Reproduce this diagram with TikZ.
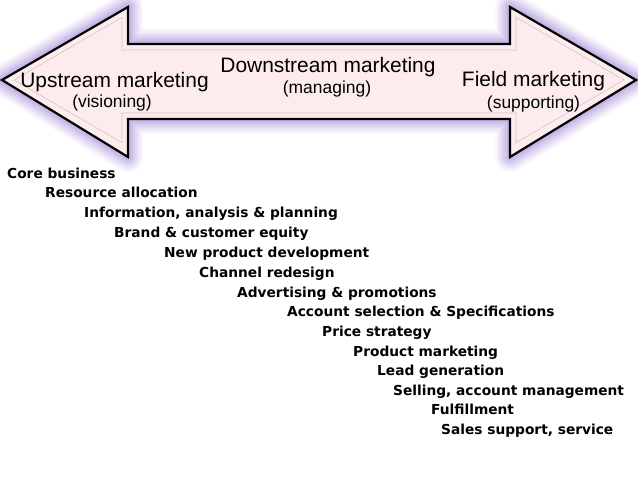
\documentclass[tikz,border=0pt]{standalone}
\usepackage{fontspec}
\setmainfont{Liberation Sans}
\newfontfamily\listfont{DejaVu Sans}
\definecolor{arrowfill}{RGB}{253,236,237}
\definecolor{glow}{RGB}{165,140,215}
\definecolor{bevel}{RGB}{215,195,200}
\begin{document}
\begin{tikzpicture}[x=1bp,y=-1bp,
  big/.style={font=\fontsize{21}{24}\selectfont, inner sep=0pt, anchor=base},
  small/.style={font=\fontsize{17.5}{20}\selectfont, inner sep=0pt, anchor=base},
  item/.style={font=\listfont\bfseries\fontsize{13.8}{16}\selectfont, inner sep=0pt, anchor=base west}]
\useasboundingbox (0,0) rectangle (638,479);
\def\arrowpath{(2,80) -- (128,7) -- (128,44) -- (510,44) -- (510,7) -- (636,80) -- (510,157) -- (510,119) -- (128,119) -- (128,157) -- cycle}
% glow
\foreach \w/\o in {30/0.07,26/0.09,22/0.11,18/0.13,14/0.15,10/0.18,6/0.22}{
  \draw[glow, line width=\w bp, opacity=\o, line join=round] \arrowpath;
}
% arrow body
\fill[white] \arrowpath;
\draw[fill=arrowfill, line width=2.2bp, line join=miter] \arrowpath;
% inner bevel line
\draw[bevel, line width=0.6bp] (14,80) -- (122,17.4) -- (122,50) -- (516,50) -- (516,17.4) -- (624,80) -- (516,142.6) -- (516,113) -- (122,113) -- (122,142.6) -- cycle;
% labels
\node[big] (up) at (114.5,88) {Upstream marketing};
\node[small] (upv) at (112,108) {(visioning)};
\node[big] (down) at (328,73) {Downstream marketing};
\node[small] (downm) at (327,94) {(managing)};
\node[big] (field) at (533.5,87) {Field marketing};
\node[small] (fields) at (533.5,109) {(supporting)};
% list
\node[item] (l1) at (7,179) {Core business};
\node[item] (l2) at (45,198) {Resource allocation};
\node[item] (l3) at (84,218) {Information, analysis \& planning};
\node[item] (l4) at (114,238) {Brand \& customer equity};
\node[item] (l5) at (164,257) {New product development};
\node[item] (l6) at (199,277) {Channel redesign};
\node[item] (l7) at (237,297) {Advertising \& promotions};
\node[item] (l8) at (287,316) {Account selection \& Specifications};
\node[item] (l9) at (322,336) {Price strategy};
\node[item] (l10) at (353,356) {Product marketing};
\node[item] (l11) at (377,375) {Lead generation};
\node[item] (l12) at (393,395) {Selling, account management};
\node[item] (l13) at (431,414) {Fulfillment};
\node[item] (l14) at (441,434) {Sales support, service};
\end{tikzpicture}
\end{document}
